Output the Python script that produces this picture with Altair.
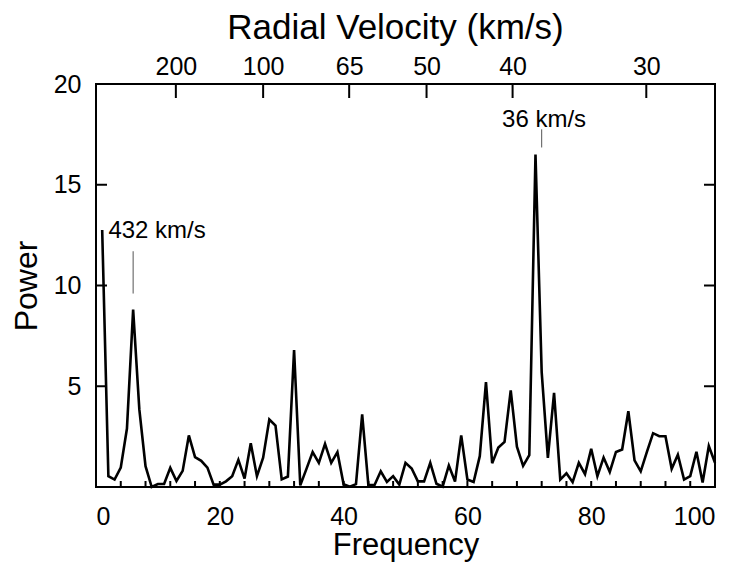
import altair as alt
import pandas as pd

# ---- data ----
freq = list(range(1, 101))
power = [12.75, 0.54, 0.37, 0.96, 2.9, 8.8, 3.85, 1.03, 0.0, 0.15,
         0.15, 0.95, 0.3, 0.8, 2.56, 1.48, 1.3, 0.96, 0.12, 0.12,
         0.28, 0.54, 1.35, 0.42, 2.17, 0.54, 1.45, 3.35, 3.05, 0.38,
         0.52, 6.8, 0.08, 0.9, 1.73, 1.2, 2.14, 1.2, 1.73, 0.14,
         0.02, 0.14, 3.6, 0.1, 0.1, 0.78, 0.25, 0.54, 0.12, 1.2,
         0.92, 0.28, 0.28, 1.2, 0.16, 0.02, 1.07, 0.27, 2.56, 0.37,
         0.25, 1.53, 5.2, 1.18, 1.96, 2.24, 4.8, 2.0, 1.05, 1.58,
         16.5, 5.7, 1.45, 4.67, 0.37, 0.68, 0.24, 1.2, 0.64, 1.9,
         0.54, 1.46, 0.75, 1.74, 1.86, 3.76, 1.32, 0.78, 1.74, 2.67,
         2.52, 2.52, 0.9, 1.6, 0.37, 0.54, 1.75, 0.22, 2.03, 1.2]

x_label_values = [0, 20, 40, 60, 80, 100]
x_tick_values = list(range(4, 100, 4))
y_label_values = [5, 10, 15, 20]
y_tick_values = [5, 10, 15]

vel_labels = ["200", "100", "65", "50", "40", "30"]
vel_pos = [12.9, 27.0, 40.9, 53.4, 67.3, 88.9]

ann_text = ["432 km/s", "36 km/s"]
ann_x = [2.0, 65.6]
ann_y = [12.7, 18.2]
ann_line_x = [6, 72]
ann_line_y1 = [9.6, 16.85]
ann_line_y2 = [11.7, 17.75]

W, H = 619, 403
FONT = "Liberation Sans"

xdom = alt.Scale(domain=[0, 100], nice=False, zero=False)
ydom = alt.Scale(domain=[0, 20], nice=False, zero=False)

df = pd.DataFrame({"Frequency": freq, "Power": power})

line = alt.Chart(df).mark_line(color="black", strokeWidth=2.6).encode(
    x=alt.X("Frequency:Q", scale=xdom,
            axis=alt.Axis(orient="bottom", values=x_label_values, title="Frequency",
                          titleFontSize=31, labelPadding=17, titlePadding=1)),
    y=alt.Y("Power:Q", scale=ydom,
            axis=alt.Axis(orient="left", values=y_label_values, title="Power",
                          labelPadding=15, titlePadding=10)),
)

# bottom inward ticks
bt = alt.Chart(pd.DataFrame({"t": x_tick_values})).mark_rule(color="black", strokeWidth=2).encode(
    x=alt.X("t:Q", scale=xdom, axis=None),
    y=alt.value(H), y2=alt.value(H - 6),
)
# left inward ticks
lt = alt.Chart(pd.DataFrame({"t": y_tick_values})).mark_rule(color="black", strokeWidth=2).encode(
    y=alt.Y("t:Q", scale=ydom, axis=None),
    x=alt.value(0), x2=alt.value(11),
)
# right inward ticks
rt = alt.Chart(pd.DataFrame({"t": y_tick_values})).mark_rule(color="black", strokeWidth=2).encode(
    y=alt.Y("t:Q", scale=ydom, axis=None),
    x=alt.value(W), x2=alt.value(W - 11),
)
# top inward ticks + top axis labels (Radial Velocity)
label_expr = "[" + ",".join("'%s'" % s for s in vel_labels) + "][indexof([" + \
    ",".join(str(v) for v in vel_pos) + "], datum.value)]"
tt = alt.Chart(pd.DataFrame({"v": vel_pos})).mark_rule(color="black", strokeWidth=2).encode(
    x=alt.X("v:Q", scale=xdom,
            axis=alt.Axis(orient="top", values=vel_pos, labelExpr=label_expr,
                          title="Radial Velocity (km/s)", titleFontSize=35,
                          titleX=299, labelPadding=5, titlePadding=9)),
    y=alt.value(0), y2=alt.value(14),
)

ann_df = pd.DataFrame({"label": ann_text, "x": ann_x, "y": ann_y})
ann = alt.Chart(ann_df).mark_text(align="left", baseline="middle", fontSize=24,
                                  font=FONT, color="black").encode(
    x=alt.X("x:Q", scale=xdom, axis=None),
    y=alt.Y("y:Q", scale=ydom, axis=None),
    text="label:N",
)
ann_lines_df = pd.DataFrame({"x": ann_line_x, "y1": ann_line_y1, "y2": ann_line_y2})
ann_lines = alt.Chart(ann_lines_df).mark_rule(color="#555555", strokeWidth=1).encode(
    x=alt.X("x:Q", scale=xdom, axis=None),
    y=alt.Y("y1:Q", scale=ydom, axis=None),
    y2="y2:Q",
)

chart = alt.layer(line, bt, lt, rt, tt, ann_lines, ann).resolve_axis(
    x="independent", y="independent"
).properties(
    width=W, height=H,
    autosize=alt.AutoSizeParams(type="none"),
    padding={"left": 88, "top": 76, "right": 8, "bottom": 75},
).configure_view(
    stroke="black", strokeWidth=2
).configure_axis(
    domain=False, ticks=False, tickSize=0, grid=False,
    labelFont=FONT, labelFontSize=25, labelColor="black",
    titleFont=FONT, titleFontSize=32, titleColor="black", titleFontWeight="normal",
)

chart.save("out.html", embed_options={"renderer": "svg", "actions": False})
